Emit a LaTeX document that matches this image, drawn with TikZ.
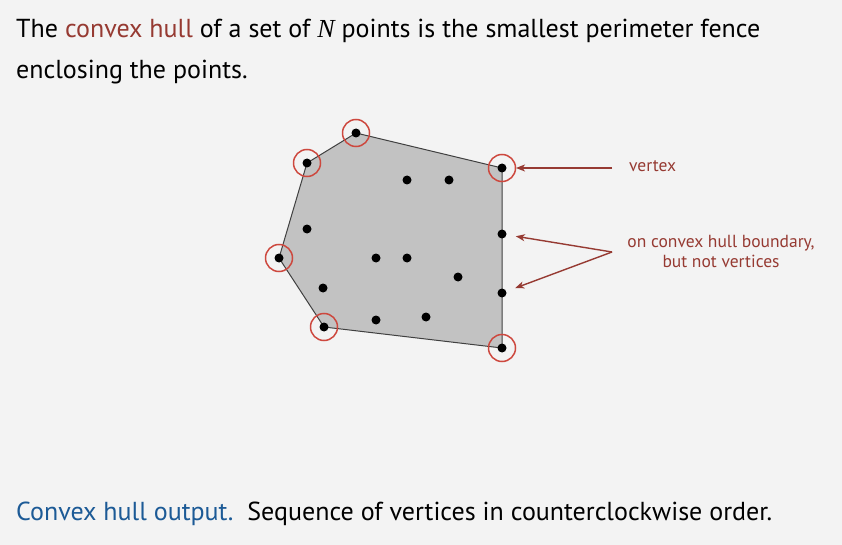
\documentclass[tikz,border=0pt]{standalone}
\usepackage{fontspec}
\setmainfont{PT Sans}
\newfontfamily\mathserif{Liberation Serif}
\usetikzlibrary{arrows.meta, positioning}
\definecolor{bgcol}{RGB}{243,243,243}
\definecolor{hullred}{RGB}{150,58,50}
\definecolor{ringred}{RGB}{205,72,62}
\definecolor{hullblue}{RGB}{28,90,150}
\definecolor{hullgray}{RGB}{194,194,194}
\begin{document}
\begin{tikzpicture}[
    x=1pt, y=-1pt,
    >=Stealth,
    pt/.style={circle, fill=black, inner sep=0pt, minimum size=9pt},
    ring/.style={circle, draw=ringred, line width=1.5pt, inner sep=0pt, minimum size=27pt},
    note/.style={draw=hullred, line width=1.4pt, shorten >=14pt, arrows={-Stealth[length=9pt, width=7pt, inset=2.5pt]}},
    label/.style={text=hullred, font=\fontsize{17.5}{20}\selectfont, inner sep=0pt},
    prose/.style={anchor=base west, inner sep=0pt, font=\fontsize{26}{30}\selectfont}
  ]
    \fill[bgcol] (0,0) rectangle (842,545);
    \useasboundingbox (0,0) rectangle (842,545);
    % title text
    \node[prose] (title) at (16,38)
      {The \textcolor{hullred}{convex hull} of a set of {\mathserif\itshape N} points is the smallest perimeter fence};
    \node[prose] (title2) at (16,79) {enclosing the points.};
    % hull points
    \coordinate (v1) at (356,133);
    \coordinate (v2) at (307,163);
    \coordinate (v3) at (279,258);
    \coordinate (v4) at (324,327);
    \coordinate (v5) at (502,348);
    \coordinate (v6) at (502,168);
    \coordinate (b1) at (502,234);
    \coordinate (b2) at (502,293);
    \filldraw[fill=hullgray, draw=black!75, line width=1pt] (v1) -- (v2) -- (v3) -- (v4) -- (v5) -- (b2) -- (b1) -- (v6) -- cycle;
    \foreach \v in {v1,v2,v3,v4,v5,v6} {
      \node[ring] (r\v) at (\v) {};
      \node[pt] (p\v) at (\v) {};
    }
    \node[pt] (pb1) at (b1) {};
    \node[pt] (pb2) at (b2) {};
    % inside points
    \foreach \x/\y [count=\i] in {407/180, 449/180, 307/229, 376/258, 407/258, 458/277, 323/288, 376/320, 426/317}
      \node[pt] (q\i) at (\x,\y) {};
    % labels
    \coordinate (vtip) at (612,168);
    \node[label, anchor=west] (vlab) at (629,166) {vertex};
    \coordinate (btip) at (612,252);
    \node[label, align=center] (blab) at (721,251) {on convex hull boundary,\\but not vertices};
    \draw[note] (vtip) -- (pv6.center);
    \draw[note] (btip) -- (pb1.center);
    \draw[note] (btip) -- (pb2.center);
    % output line
    \node[prose] (output) at (16,520)
      {\textcolor{hullblue}{Convex hull output.}\ \ Sequence of vertices in counterclockwise order.};
  \end{tikzpicture}
\end{document}
